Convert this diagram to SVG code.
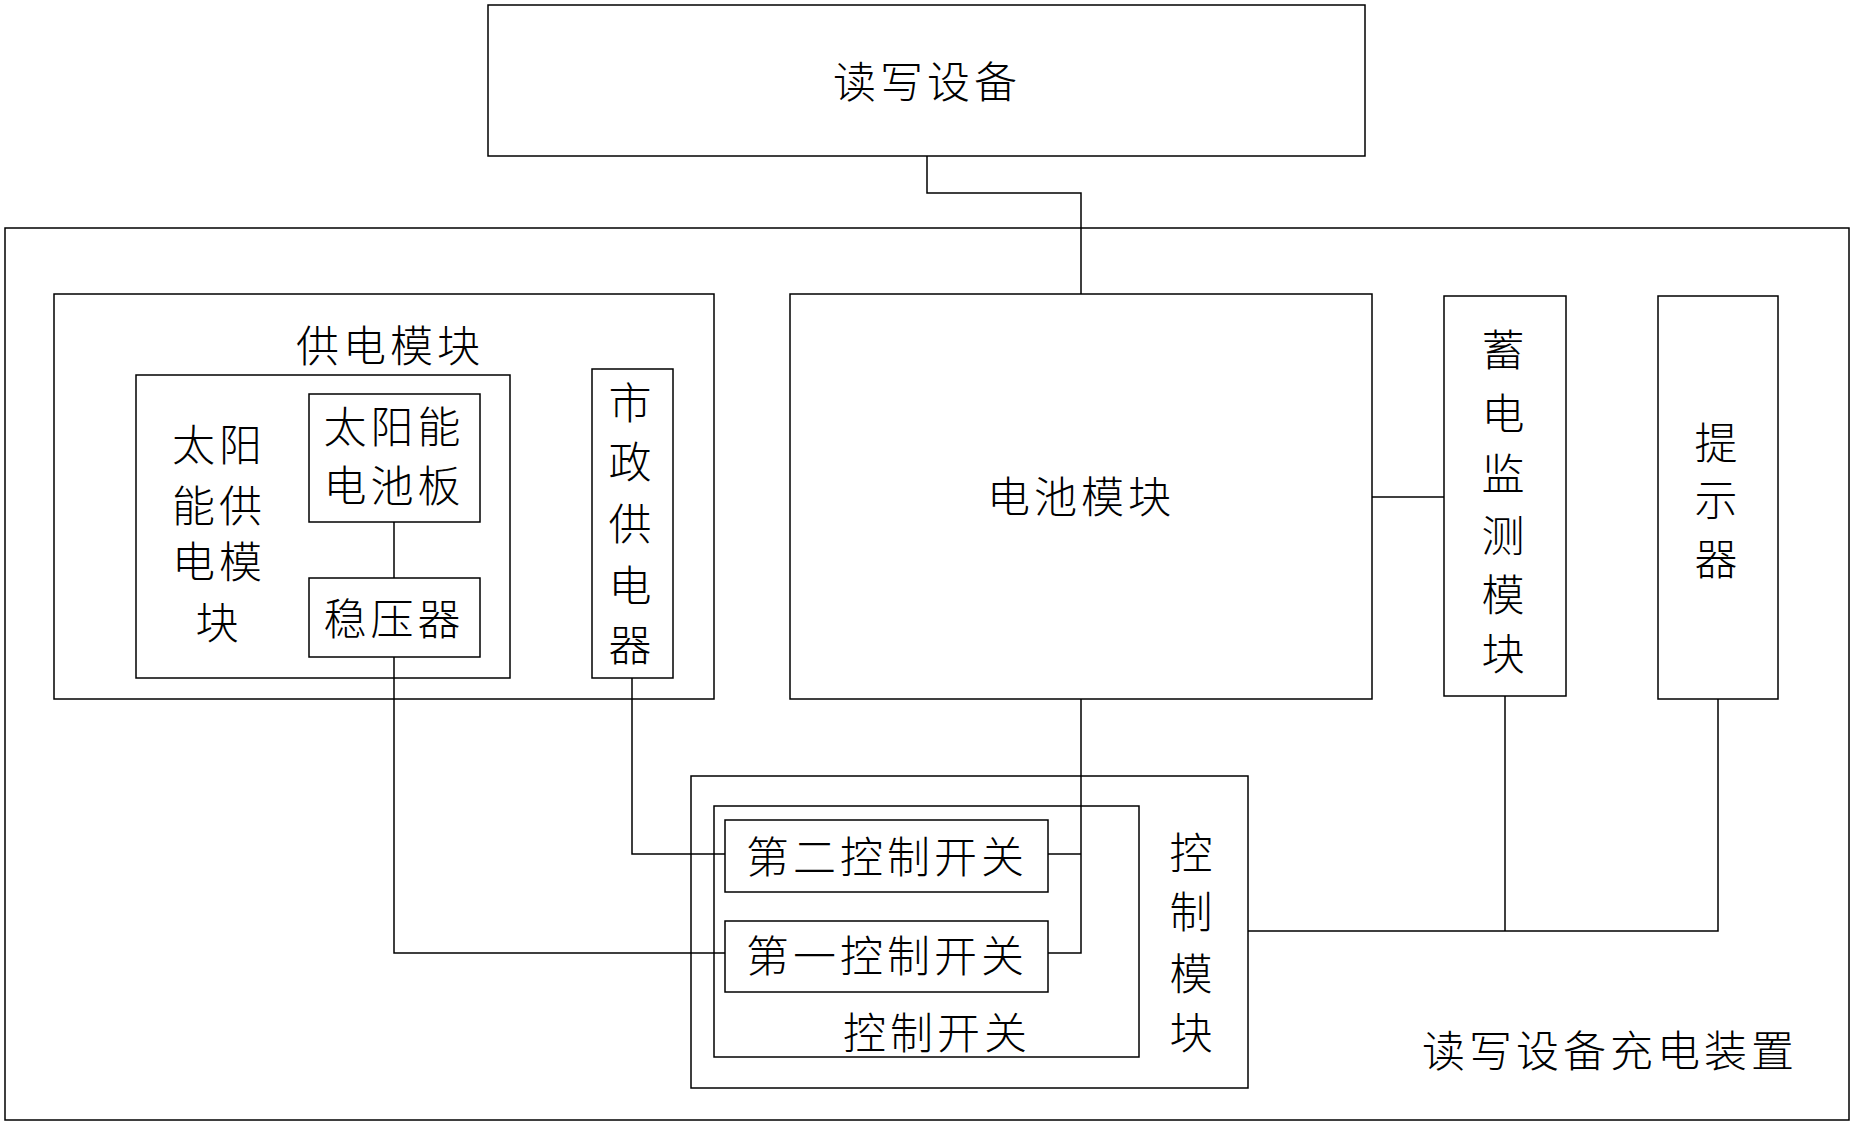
<svg xmlns="http://www.w3.org/2000/svg" width="1852" height="1124" viewBox="0 0 1852 1124">
<style>
rect{fill:none;stroke:#000;stroke-width:1.5}
.c path{fill:none;stroke:#000;stroke-width:1.5}
text{font-family:"Noto Sans CJK SC","Noto Sans",sans-serif;font-size:43px;font-weight:300;text-anchor:middle;dominant-baseline:central;fill:#000;letter-spacing:4px}
</style>
<rect x="0" y="0" width="1852" height="1124" style="fill:#fff;stroke:none"/>
<g id="device"><rect x="488" y="5" width="877" height="151"/><text x="927" y="79">读写设备</text></g>
<g id="charger"><rect x="5" y="228" width="1844" height="892"/><text x="1610" y="1048">读写设备充电装置</text></g>
<g id="power"><rect x="54" y="294" width="660" height="405"/><text x="390" y="343">供电模块</text></g>
<g id="solar"><rect x="136" y="375" width="374" height="303"/>
<text x="219" y="442">太阳</text><text x="219" y="503">能供</text><text x="219" y="559">电模</text><text x="219" y="620">块</text></g>
<g id="panel"><rect x="309" y="394" width="171" height="128"/><text x="394" y="424">太阳能</text><text x="394" y="483">电池板</text></g>
<g id="regulator"><rect x="309" y="578" width="171" height="79"/><text x="394" y="616">稳压器</text></g>
<g id="mains"><rect x="592" y="369" width="81" height="309"/>
<text x="632" y="400">市</text><text x="632" y="459">政</text><text x="632" y="521">供</text><text x="632" y="583">电</text><text x="632" y="642">器</text></g>
<g id="battery"><rect x="790" y="294" width="582" height="405"/><text x="1081" y="494">电池模块</text></g>
<g id="monitor"><rect x="1444" y="296" width="122" height="400"/>
<text x="1505" y="347">蓄</text><text x="1505" y="411">电</text><text x="1505" y="471">监</text><text x="1505" y="533">测</text><text x="1505" y="592">模</text><text x="1505" y="651">块</text></g>
<g id="prompt"><rect x="1658" y="296" width="120" height="403"/>
<text x="1718" y="440">提</text><text x="1718" y="497">示</text><text x="1718" y="556">器</text></g>
<g id="control"><rect x="691" y="776" width="557" height="312"/>
<text x="1193" y="850">控</text><text x="1193" y="909">制</text><text x="1193" y="971">模</text><text x="1193" y="1030">块</text></g>
<g id="switches"><rect x="714" y="806" width="425" height="251"/><text x="937" y="1030">控制开关</text></g>
<g id="switch2"><rect x="725" y="820" width="323" height="72"/><text x="887" y="854">第二控制开关</text></g>
<g id="switch1"><rect x="725" y="921" width="323" height="71"/><text x="887" y="953">第一控制开关</text></g>
<g class="c" id="connectors">
<path d="M927 156V193H1081V294"/>
<path d="M1372 497H1444"/>
<path d="M394 522V578"/>
<path d="M1081 699V953H1048"/>
<path d="M1048 854H1081"/>
<path d="M632 678V854H725"/>
<path d="M394 657V953H725"/>
<path d="M1248 931H1718V699"/>
<path d="M1505 696V931"/>
</g>
</svg>
